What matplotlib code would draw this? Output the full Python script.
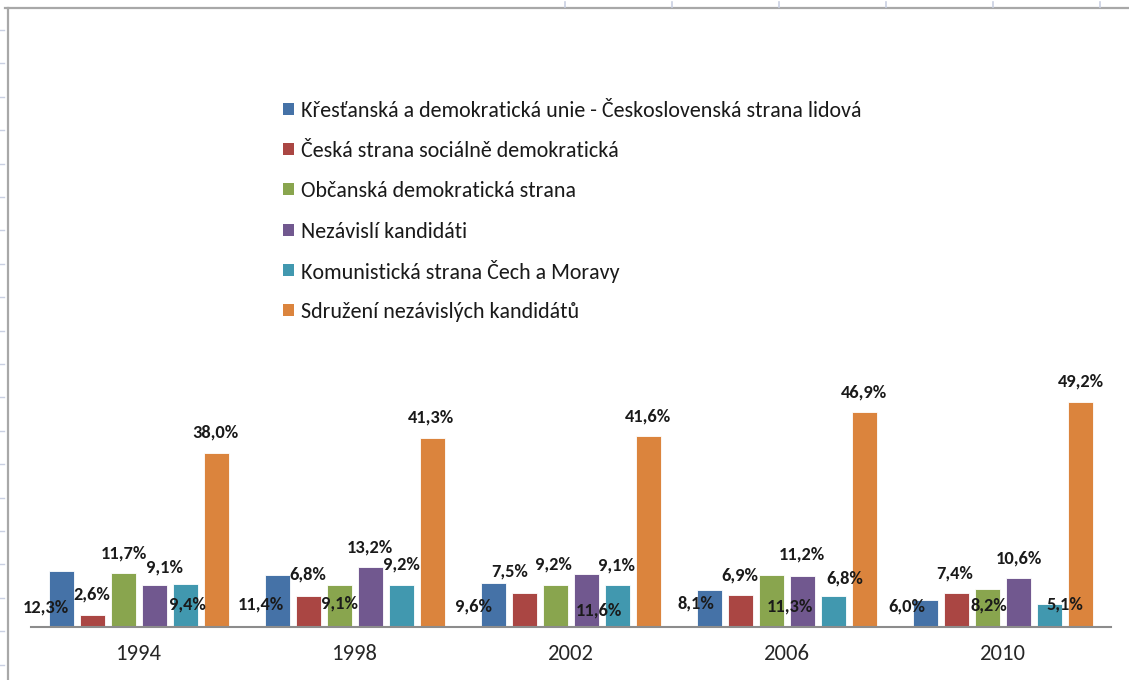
import matplotlib
matplotlib.use("Agg")
import matplotlib.pyplot as plt
from matplotlib import font_manager
from matplotlib.lines import Line2D
from matplotlib.patches import Rectangle
import numpy as np

# ---------------- data ----------------
years = ["1994", "1998", "2002", "2006", "2010"]
parties = [
    "Křesťanská a demokratická unie - Československá strana lidová",
    "Česká strana sociálně demokratická",
    "Občanská demokratická strana",
    "Nezávislí kandidáti",
    "Komunistická strana Čech a Moravy",
    "Sdružení nezávislých kandidátů",
]
kdu_csl = [12.3, 11.4, 9.6, 8.1, 6.0]
cssd = [2.6, 6.8, 7.5, 6.9, 7.4]
ods = [11.7, 9.1, 9.2, 11.3, 8.2]
nezavisli = [9.1, 13.2, 11.6, 11.2, 10.6]
kscm = [9.4, 9.2, 9.1, 6.8, 5.1]
snk = [38.0, 41.3, 41.6, 46.9, 49.2]
series = [kdu_csl, cssd, ods, nezavisli, kscm, snk]

# ---------------- style ----------------
colors = ["#4572A7", "#AA4643", "#89A54E", "#71588F", "#4198AF", "#DB843D"]

# label offsets in pixels (dx, dy) relative to each bar top, per series, per year
label_offsets = [
    [(-16, -37), (-17, -30), (-20, -24), (-14, -14), (-19, -7)],
    [(-1, 21), (-1, 21), (-15, 21), (-1, 20), (-2, 20)],
    [(0, 20), (0, -18), (-2, 20), (18, -31), (1, -16)],
    [(10, 18), (-1, 19), (12, -37), (-1, 21), (0, 20)],
    [(2, -21), (0, 20), (-1, 20), (11, 17), (15, -1)],
    [(-1, 20), (-1, 20), (0, 20), (0, 20), (0, 20)],
]

available = {f.name for f in font_manager.fontManager.ttflist}
main_font = "Carlito" if "Carlito" in available else "Lato"
plt.rcParams["font.family"] = [main_font, "DejaVu Sans"]

W, H = 1129, 680
fig = plt.figure(figsize=(W / 100, H / 100), dpi=100)
fig.patch.set_facecolor("white")


def fx(x):
    return x / W


def fy(y):
    return 1 - y / H


# spreadsheet decorations (frame and cell ticks)
fig.add_artist(Line2D([fx(5), fx(W)], [fy(7.5), fy(7.5)], color="#a8a8a8", lw=1.6))
fig.add_artist(Line2D([fx(7.5), fx(7.5)], [fy(7.5), fy(H)], color="#a8a8a8", lw=1.6))
for yy in np.arange(30, H, 33.4):
    fig.add_artist(Line2D([fx(0), fx(4)], [fy(yy), fy(yy)], color="#c9d0e2", lw=1))
for xx in [565, 672, 779, 886, 993, 1100]:
    fig.add_artist(Line2D([fx(xx), fx(xx)], [fy(2), fy(7)], color="#c9d0e2", lw=1.2))

# plot area
left, right, base, top = 31, 1111, 627, 352
ax = fig.add_axes([fx(left), fy(base), fx(right - left), (base - top) / H])
ax.set_xlim(-0.5, len(years) - 0.5)
ax.set_ylim(0, 60)

group_px = (right - left) / len(years)
pitch = 31 / group_px
width = 25 / group_px
x = np.arange(len(years))

for j, (vals, col) in enumerate(zip(series, colors)):
    xs = x + (j - 2.5) * pitch
    ax.bar(xs, vals, width=width, color=col, edgecolor="#ffffff", linewidth=0.6,
           zorder=2)
    for i, v in enumerate(vals):
        dx, dy = label_offsets[j][i]
        ax.annotate(f"{v:.1f}%".replace(".", ","), xy=(xs[i], v), xytext=(dx, dy),
                    textcoords="offset pixels", ha="center", va="center",
                    fontsize=13.2, fontweight="bold", color="#1a1a1a", zorder=3)

for s in ["top", "right", "left"]:
    ax.spines[s].set_visible(False)
ax.spines["bottom"].set_color("#8c8c8c")
ax.spines["bottom"].set_linewidth(1.5)
ax.set_yticks([])
ax.set_xticks(x)
ax.set_xticklabels(years, fontsize=16.3, color="#262626")
ax.tick_params(axis="x", length=0, pad=12)
ax.set_facecolor("none")

# legend: evenly spaced rows
leg_x, leg_y0, leg_step = 283, 109, 40.2
for k, (name, col) in enumerate(zip(parties, colors)):
    yc = leg_y0 + k * leg_step
    fig.add_artist(Rectangle((fx(leg_x), fy(yc + 6)), 11 / W, 12 / H,
                             transform=fig.transFigure, facecolor=col,
                             edgecolor="none"))
    fig.text(fx(leg_x + 18), fy(yc), name, fontsize=15.8, color="#1a1a1a",
             ha="left", va="center_baseline")

fig.savefig("out.png", dpi=100, facecolor="white")
